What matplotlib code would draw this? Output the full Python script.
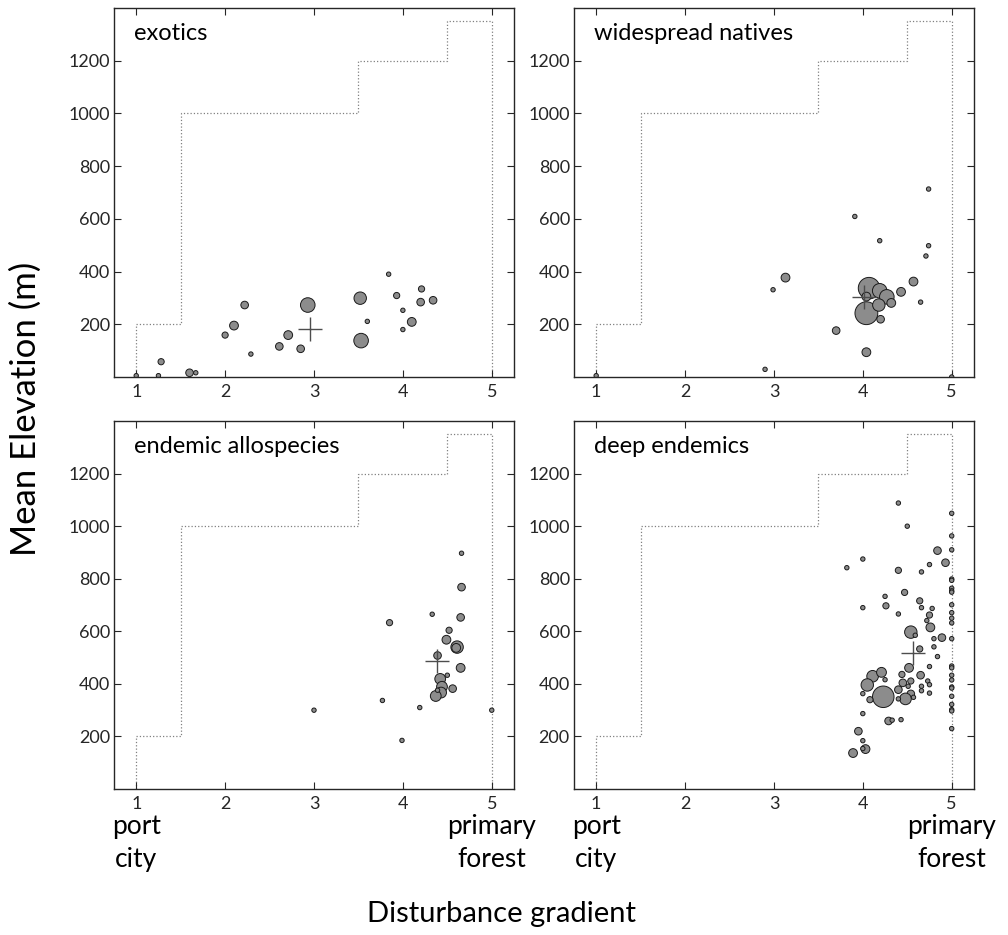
import matplotlib
matplotlib.use('Agg')
import matplotlib.pyplot as plt
import matplotlib.transforms as mtransforms
import numpy as np

plt.rcParams['font.family'] = ['Lato', 'DejaVu Sans']

# elevation ceiling of each disturbance level (padded with 0 at both ends)
zone_x = [1, 1, 2, 3, 4, 5, 5]
zone_top = [0, 200, 1000, 1000, 1200, 1350, 0]

# exotics
ex_x = [1.0, 1.28, 1.25, 1.60, 1.67, 2.0, 2.10, 2.22, 2.29, 2.61, 2.71, 2.85, 2.93,
        3.52, 3.53, 3.60, 3.84, 3.93, 4.0, 4.0, 4.10, 4.21, 4.20, 4.34]
ex_y = [5, 58, 5, 16, 16, 159, 195, 273, 87, 116, 159, 107, 273,
        299, 138, 211, 390, 309, 253, 180, 209, 334, 284, 291]
ex_n = [1, 2, 1, 3, 1, 2, 4, 3, 1, 3, 4, 3, 11,
        8, 11, 1, 1, 2, 1, 1, 4, 2, 3, 3]
ex_mean = (2.96, 181)

# widespread natives
wn_x = [1.0, 2.90, 2.99, 3.13, 3.70, 3.91, 4.04, 4.04, 4.07, 4.19, 4.27, 4.18,
        4.32, 4.20, 4.04, 4.19, 4.43, 4.57, 4.65, 4.71, 4.74, 4.74, 5.0]
wn_y = [5, 29, 331, 377, 176, 609, 94, 242, 337, 327, 304, 273,
        281, 219, 305, 517, 323, 362, 284, 459, 498, 713, 0]
wn_n = [1, 1, 1, 4, 3, 1, 4, 27, 24, 11, 11, 8,
        4, 3, 4, 1, 4, 4, 1, 1, 1, 1, 1]
wn_mean = (4.01, 304)

# endemic allospecies
ea_x = [3.0, 3.77, 3.85, 3.99, 4.19, 4.33, 4.39, 4.42, 4.44, 4.43, 4.37, 4.39,
        4.50, 4.49, 4.52, 4.56, 4.61, 4.60, 4.65, 4.65, 4.66, 4.66, 5.0]
ea_y = [300, 337, 633, 185, 310, 665, 508, 419, 389, 367, 354, 376,
        433, 568, 604, 382, 540, 537, 461, 653, 768, 897, 300]
ea_n = [1, 1, 2, 1, 1, 1, 3, 6, 6, 6, 6, 1,
        1, 4, 2, 3, 8, 4, 4, 3, 3, 1, 1]
ea_mean = (4.38, 486)

# deep endemics
de_x = [4.40, 4.50, 4.84, 4.93, 4.75, 4.0, 3.82, 4.40, 4.66, 4.47, 4.25, 4.64,
        4.26, 4.0, 4.66, 4.78, 4.75, 4.40, 4.72, 4.76, 4.54, 4.59, 4.89, 4.80,
        4.64, 4.80, 4.84, 4.52, 4.75, 4.44, 4.65, 4.54, 4.73, 4.75, 4.45, 4.51,
        4.66, 4.66, 4.75, 4.40, 4.54, 4.48, 4.40, 4.57, 4.11, 4.21, 4.05, 4.25,
        4.23, 4.0, 4.08, 4.0, 4.29, 4.33, 4.43, 3.95, 4.0, 4.03, 4.0, 3.89]
de_y = [1088, 1000, 907, 861, 854, 875, 842, 832, 826, 748, 733, 716,
        697, 690, 690, 687, 662, 666, 641, 615, 597, 585, 576, 572,
        533, 541, 504, 461, 466, 436, 433, 411, 411, 397, 404, 391,
        391, 374, 365, 378, 362, 343, 343, 349, 429, 444, 396, 416,
        351, 363, 340, 287, 259, 262, 264, 220, 184, 152, 154, 137]
de_n = [1, 1, 3, 3, 1, 1, 1, 2, 1, 2, 1, 2,
        2, 1, 1, 1, 2, 1, 1, 4, 8, 1, 3, 1,
        2, 1, 1, 4, 1, 2, 3, 2, 1, 1, 3, 1,
        1, 1, 1, 3, 3, 7, 1, 1, 7, 5, 8, 1,
        24, 1, 2, 1, 3, 1, 1, 3, 1, 4, 1, 4]
# species sitting right at primary forest (level 5)
de_x5 = [5] * 24
de_y5 = [1049, 963, 910, 799, 794, 764, 754, 749, 701, 671, 650, 632,
         572, 468, 461, 433, 415, 388, 384, 353, 322, 302, 297, 230]
de_mean = (4.57, 517)

panels = [
    ('exotics', ex_x, ex_y, ex_n, ex_mean),
    ('widespread natives', wn_x, wn_y, wn_n, wn_mean),
    ('endemic allospecies', ea_x, ea_y, ea_n, ea_mean),
    ('deep endemics', de_x + de_x5, de_y + de_y5, de_n + [1] * len(de_x5), de_mean),
]

fig = plt.figure(figsize=(10.08, 9.35), dpi=100)
rects = [
    [0.1131, 0.5968, 0.3968, 0.3947],
    [0.5694, 0.5968, 0.3968, 0.3947],
    [0.1131, 0.1561, 0.3968, 0.3936],
    [0.5694, 0.1561, 0.3968, 0.3936],
]

for i, (name, xs, ys, ns, mean) in enumerate(panels):
    ax = fig.add_axes(rects[i])
    ax.step(zone_x, zone_top, where='mid', color='0.5', linestyle=':', lw=0.9, zorder=1)
    ax.scatter(xs, ys, s=np.array(ns) * 10, c='#8c8c8c', edgecolors='0.1',
               linewidths=0.7, zorder=2, clip_on=True)
    ax.plot(mean[0], mean[1], marker='+', ms=17, mew=1.0, color='0.3',
            linestyle='none', zorder=3)

    ax.set_xlim(0.75, 5.25)
    ax.set_ylim(0, 1400)
    ax.set_xticks([1, 2, 3, 4, 5])
    ax.set_yticks([200, 400, 600, 800, 1000, 1200])
    ax.tick_params(direction='in', top=True, right=True, length=5, width=0.8,
                   labelsize=13, colors='0.15')
    ax.tick_params(axis='x', pad=5)
    ax.tick_params(axis='y', pad=3)
    for sp in ax.spines.values():
        sp.set_linewidth(1.0)
        sp.set_color('0.15')

    ax.text(0.05, 0.914, name, transform=ax.transAxes, fontsize=17,
            ha='left', va='baseline')

    if i >= 2:
        # multi-line text: baseline alignment goes on the last line
        trans = mtransforms.blended_transform_factory(ax.transData, ax.transAxes)
        ax.text(1, -0.212, 'port\ncity', transform=trans, fontsize=19,
                ha='center', va='baseline', multialignment='center', linespacing=1.42)
        ax.text(5, -0.212, 'primary\nforest', transform=trans, fontsize=19,
                ha='center', va='baseline', multialignment='center', linespacing=1.42)

fig.text(0.026, 0.563, 'Mean Elevation (m)', rotation=90, fontsize=25,
         ha='center', va='center')
fig.text(0.498, 0.014, 'Disturbance gradient', fontsize=21,
         ha='center', va='baseline')

fig.savefig('out.png', dpi=100)
